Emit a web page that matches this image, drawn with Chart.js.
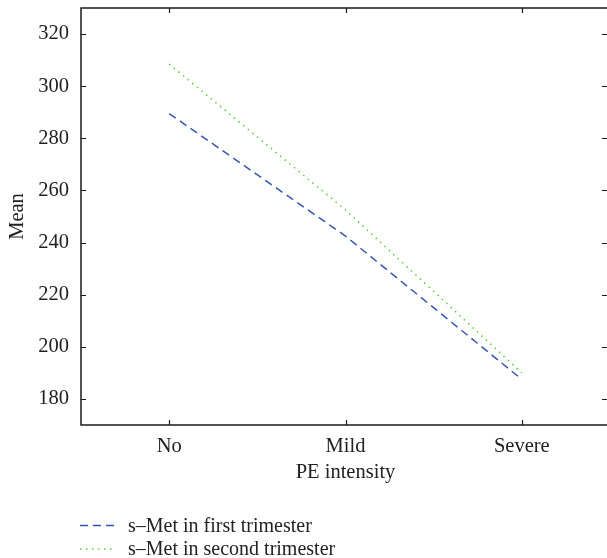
<!DOCTYPE html>
<html>
<head>
<meta charset="utf-8">
<script src="https://cdn.jsdelivr.net/npm/chart.js@4/dist/chart.umd.min.js"></script>
<style>
html,body{margin:0;padding:0;overflow:hidden;background:#fff;width:607px;height:558px;}
#wrap{width:610px;height:558px;}
</style>
</head>
<body>
<div id="wrap"><canvas id="c" width="610" height="558"></canvas></div>
<script>
const categories = ['No', 'Mild', 'Severe'];
const firstTrimester = [289.5, 242.5, 187.5];
const secondTrimester = [308.5, 252.5, 190];
const yTicks = [180, 200, 220, 240, 260, 280, 300, 320];
const seriesNames = ['s\u2013Met in first trimester', 's\u2013Met in second trimester'];
const seriesColors = ['#3456b0', '#5cc83c'];
const seriesDash = [[8, 5], [1.5, 4.5]];

const FONT = '"Liberation Serif", "Times New Roman", serif';
const FS = 20.5;
const LEGEND_FS = 20;

const framePlugin = {
  id: 'frame',
  afterDraw(chart) {
    const ctx = chart.ctx;
    const a = chart.chartArea;
    const xs = chart.scales.x, ys = chart.scales.y;
    ctx.save();
    ctx.strokeStyle = '#1a1a1a';
    ctx.lineWidth = 1.5;
    ctx.setLineDash([]);
    ctx.strokeRect(a.left, a.top, a.right - a.left, a.bottom - a.top);
    ctx.lineWidth = 1.2;
    const tl = 5;
    ctx.beginPath();
    ys.ticks.forEach(t => {
      const y = Math.round(ys.getPixelForValue(t.value)) + 0.5;
      ctx.moveTo(a.left, y); ctx.lineTo(a.left + tl, y);
      ctx.moveTo(a.right - 3, y); ctx.lineTo(a.right - 3 - tl, y);
    });
    xs.ticks.forEach((t, i) => {
      const x = Math.round(xs.getPixelForTick(i)) + 0.5;
      ctx.moveTo(x, a.top); ctx.lineTo(x, a.top + tl);
      ctx.moveTo(x, a.bottom); ctx.lineTo(x, a.bottom - tl);
    });
    ctx.stroke();

    // legend
    const lx0 = 80, lx1 = 114, tx = 128;
    const rows = [525.5, 549];
    ctx.font = LEGEND_FS + 'px ' + FONT;
    ctx.textBaseline = 'middle';
    ctx.textAlign = 'left';
    chart.data.datasets.forEach((ds, i) => {
      const y = rows[i];
      ctx.strokeStyle = ds.borderColor;
      ctx.lineWidth = 1.5;
      ctx.setLineDash(ds.borderDash);
      ctx.beginPath();
      ctx.moveTo(lx0, y); ctx.lineTo(lx1, y);
      ctx.stroke();
      ctx.setLineDash([]);
      ctx.fillStyle = '#222';
      ctx.fillText(ds.label, tx, y + 1);
    });
    ctx.restore();
  }
};

new Chart(document.getElementById('c'), {
  type: 'line',
  data: {
    labels: categories,
    datasets: [
      { label: seriesNames[0], data: firstTrimester, borderColor: seriesColors[0], borderDash: seriesDash[0], borderWidth: 1.5, pointRadius: 0, fill: false, tension: 0 },
      { label: seriesNames[1], data: secondTrimester, borderColor: seriesColors[1], borderDash: seriesDash[1], borderWidth: 1.5, pointRadius: 0, fill: false, tension: 0 }
    ]
  },
  options: {
    responsive: false,
    animation: false,
    devicePixelRatio: 1,
    layout: { padding: { top: 8, right: 0, bottom: 73, left: 0 } },
    plugins: { legend: { display: false }, tooltip: { enabled: false } },
    scales: {
      x: {
        type: 'category',
        offset: true,
        afterFit: s => { s.height = 60; s.paddingLeft = 0; s.paddingRight = 0; },
        grid: { display: false, drawTicks: false },
        border: { display: false },
        ticks: { color: '#222', padding: 9, font: { family: FONT, size: FS } },
        title: { display: true, text: 'PE intensity', color: '#222', padding: { top: 0, bottom: 0 }, font: { family: FONT, size: FS } }
      },
      y: {
        min: 170, max: 330,
        afterBuildTicks: s => { s.ticks = yTicks.map(v => ({ value: v })); },
        afterFit: s => { s.width = 81; s.paddingTop = 0; s.paddingBottom = 0; },
        grid: { display: false, drawTicks: false },
        border: { display: false },
        ticks: { color: '#222', padding: 12, font: { family: FONT, size: FS } },
        title: { display: true, text: 'Mean', color: '#222', padding: { top: 5, bottom: 0 }, font: { family: FONT, size: FS } }
      }
    }
  },
  plugins: [framePlugin]
});
</script>
</body>
</html>
